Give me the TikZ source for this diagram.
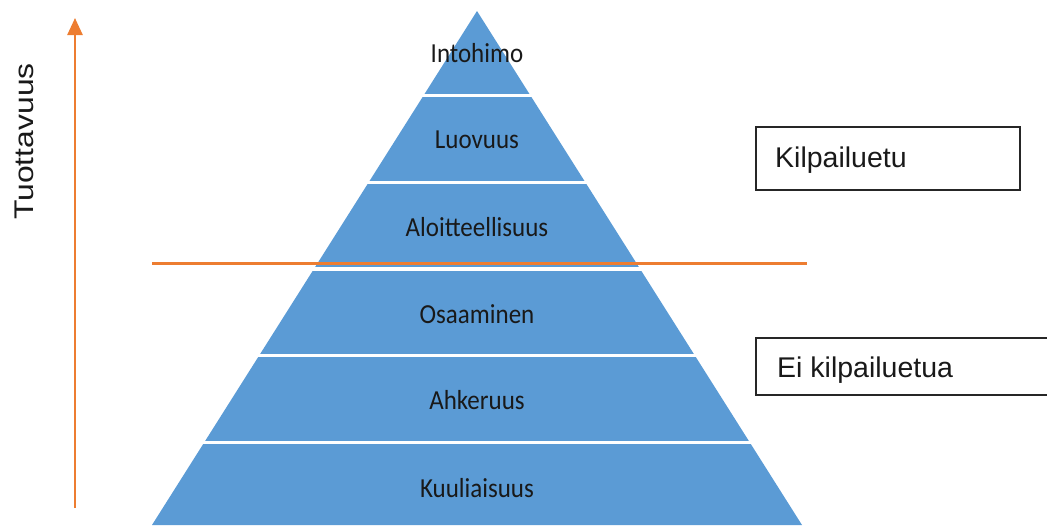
\documentclass[tikz,border=0pt]{standalone}
\usepackage{fontspec}
\setmainfont{Carlito}
\newfontfamily\arialfont{Liberation Sans}
\usetikzlibrary{arrows.meta}
\definecolor{pyrblue}{HTML}{5B9BD5}
\definecolor{accent}{HTML}{ED7D31}
\begin{document}
\begin{tikzpicture}[x=1pt,y=-1pt,
  level/.style={anchor=base,inner sep=0pt,text=black!90,
    font=\fontsize{25}{25}\selectfont},
  sidebox/.style={draw=black!85,line width=1.4pt},
  sidetext/.style={anchor=base west,inner sep=0pt,text=black!90,
    font=\arialfont\fontsize{28.5}{28.5}\selectfont},
  gap/.style={draw=white,line width=3.5pt}]
\useasboundingbox (0,0) rectangle (1047,525);
% pyramid body
\coordinate (apex) at (477,11);
\coordinate (bl) at (152,525);
\coordinate (br) at (802,525);
\fill[pyrblue] (apex) -- (br) -- (bl) -- cycle;
% white separators between the levels
\foreach \yy in {95.5,182.5,269,355.5,442.5}
  \draw[gap] (140,\yy) -- (815,\yy);
% threshold line
\coordinate (tl) at (152,263.5);
\coordinate (tr) at (807,263.5);
\draw[accent,line width=3pt] (tl) -- (tr);
% level labels
\node[level] (l1) at (477,62) {\scalebox{1}[1.1]{Intohimo}};
\node[level] (l2) at (477,148) {\scalebox{1}[1.1]{Luovuus}};
\node[level] (l3) at (477,236) {\scalebox{1}[1.1]{Aloitteellisuus}};
\node[level] (l4) at (477,323) {\scalebox{1}[1.1]{Osaaminen}};
\node[level] (l5) at (477,409) {\scalebox{1}[1.1]{Ahkeruus}};
\node[level] (l6) at (477,497) {\scalebox{1}[1.1]{Kuuliaisuus}};
% productivity axis
\coordinate (ax0) at (75,508);
\coordinate (ax1) at (75,18);
\draw[accent,line width=2.5pt,-{Triangle[length=17pt,width=15pt]}] (ax0) -- (ax1);
\node[anchor=base,inner sep=0pt,rotate=90,text=black!90,
  font=\arialfont\fontsize{27}{27}\selectfont] (axlabel) at (33,141.5)
  {\scalebox{1.18}[1]{Tuottavuus}};
% side boxes
\draw[sidebox] (756,127) rectangle (1020,190);
\node[sidetext] (k1) at (775,167) {Kilpailuetu};
\draw[sidebox] (756,338) rectangle (1060,395);
\node[sidetext] (k2) at (777,377) {Ei kilpailuetua};
\end{tikzpicture}
\end{document}
